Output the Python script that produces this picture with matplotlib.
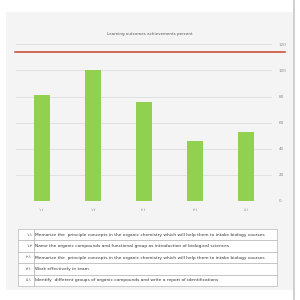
import matplotlib.pyplot as plt
from matplotlib.patches import Rectangle

# data
outcomes = ["١.١", "١.٢", "٢.١", "٣.١", "٤.١"]
achieved = [81, 100, 76, 46, 53]
target = 114
y_ticks = [0, 20, 40, 60, 80, 100, 120]
descriptions = [
    "Memorize the  principle concepts in the organic chemistry which will help them to intake biology courses",
    "Name the organic compounds and functional group as introduction of biological sciences",
    "Memorize the  principle concepts in the organic chemistry which will help them to intake biology courses",
    "Work effectively in team",
    "Identify  different groups of organic compounds and write a report of identifications",
]

fig = plt.figure(figsize=(3, 3), dpi=100)
fig.patch.set_facecolor("white")

# light grey panel behind everything
fig.add_artist(Rectangle((6 / 300, 1 - 290 / 300), 287 / 300, 278 / 300,
                         transform=fig.transFigure, facecolor="#f4f4f4",
                         edgecolor="none", zorder=-2))
fig.add_artist(Rectangle((293 / 300, 0), 1.5 / 300, 1,
                         transform=fig.transFigure, facecolor="#d0d0d0",
                         edgecolor="none", zorder=-2))

ax = fig.add_axes([16 / 300, 1 - 201 / 300, 256 / 300, 156.7 / 300])
ax.set_zorder(1)
ax.set_facecolor("none")
x = range(len(outcomes))
ax.bar(x, achieved, width=0.31, color="#92d050", zorder=3)
ax.axhline(target, xmin=-0.005, xmax=1.05, color="#c8442c", lw=1.1,
           clip_on=False, zorder=4)

ax.set_xlim(-0.5, len(outcomes) - 0.5)
ax.set_ylim(0, 120)
ax.set_yticks(y_ticks)
ax.yaxis.tick_right()
ax.grid(axis="y", color="#dedede", lw=0.6, zorder=0)
ax.set_xticks(list(x))
ax.set_xticklabels(outcomes)
ax.tick_params(axis="both", length=0, labelsize=3, colors="#888888")
ax.tick_params(axis="y", pad=5)
ax.tick_params(axis="x", pad=5)
for s in ax.spines.values():
    s.set_visible(False)

fig.text(150 / 300, 1 - 34 / 300, "Learning outcomes achievements percent",
         ha="center", va="center", fontsize=2.9, color="#555555")

# table of outcome descriptions
tax = fig.add_axes([18 / 300, 1 - 286 / 300, 259 / 300, 57 / 300])
tax.set_zorder(1)
tax.axis("off")
rows = [[o, d] for o, d in zip(outcomes, descriptions)]
tbl = tax.table(cellText=rows, colWidths=[16 / 259, 243 / 259],
                bbox=[0, 0, 1, 1], cellLoc="left")
tbl.auto_set_font_size(False)
tbl.set_fontsize(3.2)
for (r, c), cell in tbl.get_celld().items():
    cell.set_edgecolor("#b8b8b8")
    cell.set_linewidth(0.5)
    cell.set_facecolor("white")
    cell.PAD = 0.005 if c == 1 else 0.12
    cell.get_text().set_color("#333333")
    if c == 0:
        cell.get_text().set_ha("right")

fig.savefig("out.png", dpi=100)
